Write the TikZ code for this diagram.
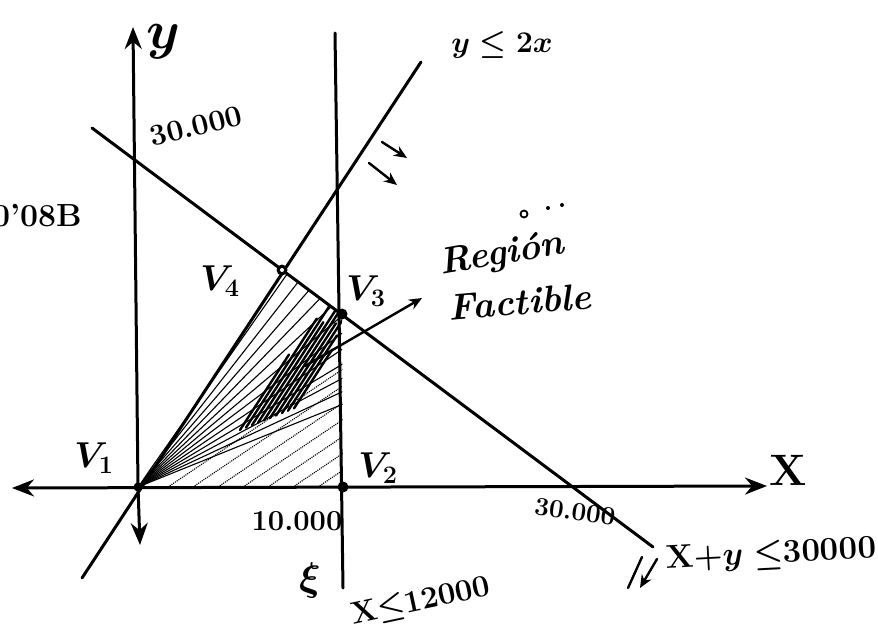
\RequirePackage{fix-cm}
\documentclass[tikz,border=0pt]{standalone}
\usetikzlibrary{arrows.meta,calc}
\begin{document}
\tikzset{
  ln/.style={line width=3pt, line cap=round},
  axis/.style={ln, {Stealth[length=22pt,width=17pt]}-{Stealth[length=22pt,width=17pt]}},
  sarr/.style={line width=2.4pt, line cap=round, -{Stealth[length=13pt,width=11pt]}},
  lbl/.style={inner sep=0pt, font=\fontsize{34}{34}\selectfont\bfseries\boldmath},
  vdot/.style={circle, fill, inner sep=0pt, minimum size=11pt},
  hatch/.style={line width=1.1pt},
}
\begin{tikzpicture}[x=1pt,y=-1pt]
\useasboundingbox (0,0) rectangle (878,631);
% key points
\coordinate (O) at (138,487);
\coordinate (xl) at (12,488);
\coordinate (xr) at (767,486);
\coordinate (yt) at (133,27);
\coordinate (yb) at (140,545);
\coordinate (lt) at (421,62);
\coordinate (lb) at (82,578);
\coordinate (ct) at (92,128);
\coordinate (cb) at (653,547);
\coordinate (vt) at (335,33);
\coordinate (vb) at (343,588);
\coordinate (P2) at (343,487);
\coordinate (P3) at (342,314);
\coordinate (P4) at (282,270);
% hatching of the feasible region
\begin{scope}
  \clip (O) -- (P4) -- (P3) -- (P2) -- cycle;
  \foreach \a in {22,25,...,58}{
    \draw[hatch] (O) -- ++({420*cos(\a)},{-420*sin(\a)});
  }
  \foreach \s in {30,55,...,230}{
    \draw[hatch, densely dotted] ($(O)+(\s,0)$) -- ++({300*cos(34)},{-300*sin(34)});
  }
  \foreach \d/\l in {0/90,6/130,12/150,18/120,24/160,30/140,36/110,42/130,48/90,54/70}{
    \draw[line width=2.4pt, line cap=round] ({240+\d},{430-0.4*\d}) -- ++({\l*cos(57)},{-\l*sin(57)});
  }
\end{scope}
% axes
\draw[axis] (xl) -- (xr);
\draw[axis] (yb) -- (O) -- (yt);
% constraint lines
\draw[ln] (lb) -- (lt);
\draw[ln] (ct) -- (cb);
\draw[ln] (vt) -- (vb);
% vertices
\node[vdot] (V2) at (P2) {};
\node[vdot] (V3) at (P3) {};
\node[vdot] (V4) at (P4) {};
\node[vdot, fill=white, minimum size=4pt] (V4c) at (P4) {};
\node[vdot, minimum size=9pt] (V1) at (O) {};
% arrow to the label
\coordinate (as) at (305,366);
\coordinate (ae) at (422,298);
\draw[sarr] (as) -- (ae);
% direction marks
\coordinate (d1a) at (382,142); \coordinate (d1b) at (407,158);
\coordinate (d2a) at (369,163); \coordinate (d2b) at (397,185);
\draw[sarr] (d1a) -- (d1b);
\draw[sarr] (d2a) -- (d2b);
\coordinate (d3a) at (642,557); \coordinate (d3b) at (628,588);
\coordinate (d4a) at (657,559); \coordinate (d4b) at (640,588);
\draw[line width=2.4pt, line cap=round] (d3a) -- (d3b);
\draw[sarr] (d4a) -- (d4b);
% small marks above "Region"
\node[circle, draw, line width=1.8pt, inner sep=0pt, minimum size=7pt] (m1) at (524,214) {};
\node[circle, fill, inner sep=0pt, minimum size=4pt] (m2) at (548,208) {};
\node[circle, fill, inner sep=0pt, minimum size=4pt] (m3) at (562,205) {};
% labels
\node[lbl, font=\fontsize{54}{54}\selectfont\boldmath] (ylab) at (163,42) {$y$};
\node[lbl, rotate=14, font=\fontsize{30}{30}\selectfont\bfseries] (y30) at (196,126) {30.000};
\node[lbl, font=\fontsize{30}{30}\selectfont\boldmath] (c1) at (502,45) {$y\leq 2x$};
\node[lbl, rotate=10, font=\fontsize{37}{37}\selectfont\bfseries\itshape] (reg) at (502,255) {Región};
\node[lbl, rotate=5, font=\fontsize{37}{37}\selectfont\bfseries\itshape] (fac) at (520,302) {Factible};
\node[lbl, font=\fontsize{36}{36}\selectfont\boldmath] (v4l) at (220,281) {$V_4$};
\node[lbl, font=\fontsize{36}{36}\selectfont\boldmath] (v3l) at (366,291) {$V_3$};
\node[lbl, font=\fontsize{36}{36}\selectfont\boldmath] (v1l) at (94,458) {$V_1$};
\node[lbl, font=\fontsize{36}{36}\selectfont\boldmath] (v2l) at (378,468) {$V_2$};
\node[lbl, font=\fontsize{29}{29}\selectfont\bfseries] (x10) at (297,521) {10.000};
\node[lbl, rotate=-8, font=\fontsize{26}{26}\selectfont\bfseries] (x30) at (575,512) {30.000};
\node[lbl, font=\fontsize{44}{44}\selectfont\bfseries] (xlab) at (788,470) {X};
\node[lbl, rotate=3, font=\fontsize{33}{33}\selectfont\bfseries\boldmath] (c2) at (771,555) {X$+y\leq$30000};
\node[lbl, rotate=12, font=\fontsize{31}{31}\selectfont\bfseries\boldmath] (c3) at (421,602) {X$\leq$12000};
\node[lbl, font=\fontsize{40}{40}\selectfont\boldmath] (xi) at (310,580) {$\xi$};
\node[lbl, anchor=east, font=\fontsize{32}{32}\selectfont\bfseries] (obs) at (82,216) {0'08B};
\end{tikzpicture}
\end{document}
